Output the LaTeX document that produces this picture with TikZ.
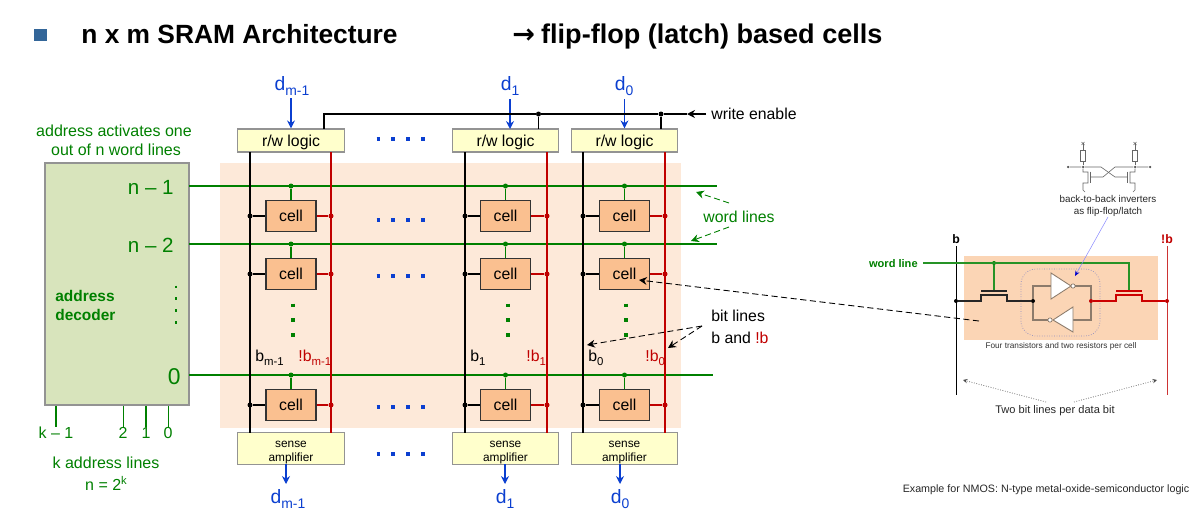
\documentclass[tikz,border=0pt]{standalone}
\usepackage{fontspec}
\setmainfont{Liberation Sans}
\newfontfamily\arrowfont{DejaVu Sans}
\usetikzlibrary{arrows.meta}
\definecolor{dgreen}{HTML}{008000}
\definecolor{dred}{HTML}{C00000}
\definecolor{dblue}{HTML}{0B3FD0}
\definecolor{peach}{HTML}{FDE9D9}
\definecolor{peachb}{HTML}{FBD5B5}
\definecolor{cellc}{HTML}{FAC090}
\definecolor{ampc}{HTML}{FFFFCC}
\definecolor{decc}{HTML}{D8E4BC}
\definecolor{invl}{HTML}{8C7B6B}
\definecolor{bulletc}{HTML}{336699}
\newcommand{\fs}[1]{\fontsize{#1pt}{#1pt}\selectfont}
\newcommand{\low}[1]{\raisebox{-0.45ex}{\scalebox{0.72}{#1}}}
\newcommand{\sensetxt}{\rule{0pt}{8.4pt}sense\\[1.3pt]amplifier}
\begin{document}
\begin{tikzpicture}[x=0.02cm,y=-0.02cm,every node/.style={inner sep=0pt},
amp/.style={shape=rectangle,draw=gray!85,line width=0.7pt,fill=ampc,minimum width=2.13cm},
rwbox/.style={amp,minimum height=0.46cm,font=\fs{9},text height=6.5pt,text depth=0pt},senseb/.style={amp,align=center,minimum height=0.62cm,font=\fs{6.75}},
cellbox/.style={shape=rectangle,draw=black!80,line width=0.7pt,fill=cellc,minimum width=1cm,minimum height=0.62cm,font=\fs{9}},
wordl/.style={dgreen,line width=1.1pt},tap/.style={dgreen,line width=0.8pt},bitb/.style={black,line width=1.1pt},bitr/.style={dred,line width=1.1pt},
dotg/.style={shape=circle,fill=dgreen,minimum size=0.1cm},dotk/.style={shape=circle,fill=black,minimum size=0.1cm},dotr/.style={shape=circle,fill=dred,minimum size=0.1cm},
dinarr/.style={dblue,line width=0.7pt,-{Stealth[length=4.5pt,width=4.5pt]}},
dlab/.style={dblue,font=\fs{11}},glab/.style={dgreen,font=\fs{9.1}},blab/.style={font=\fs{9}},rlab/.style={dred,font=\fs{9}},
dotsb/.style={dblue,line width=1.9pt,dash pattern=on 1.9pt off 6.6pt},dotsg/.style={dgreen,line width=1.9pt,dash pattern=on 1.9pt off 6.6pt},dotsd/.style={dgreen,line width=1.6pt,dash pattern=on 1.6pt off 5.2pt},
dashk/.style={black,line width=0.5pt,dash pattern=on 3.5pt off 2pt,-{Stealth[length=4.5pt,width=4.5pt]}},dashg/.style={dgreen,line width=0.5pt,dash pattern=on 3.5pt off 2pt,-{Stealth[length=4.5pt,width=4.5pt]}},
dotgr/.style={black!70,line width=0.4pt,densely dotted,-{Stealth[length=2.5pt,width=2.5pt]}},
mini/.style={black!60,line width=0.35pt},wirek/.style={black!85,line width=0.6pt},wirer/.style={red!80!black,line width=0.6pt},wirei/.style={invl,line width=0.6pt},
inv/.style={draw=invl,line width=0.5pt,fill=white},bubble/.style={shape=circle,draw=invl,line width=0.4pt,fill=white,minimum size=0.085cm},
small/.style={font=\fs{4.7},text=black!80}]
\useasboundingbox (0,0) rectangle (1204,521);
\def\xa{291};
\def\xb{505.5};
\def\xc{624.5};
\def\ya{216};
\def\yb{274};
\def\yc{405};

% title
\node[shape=rectangle,fill=bulletc,minimum width=0.26cm,minimum height=0.24cm] (bullet) at (40.5,35) {};
\node[anchor=base west,font=\fs{15}\bfseries] (title) at (81,43) {n x m SRAM Architecture};
\node[anchor=base west,font=\fs{15.4}\bfseries] (titleb) at (512,43) {{\arrowfont\bfseries →}\hspace{-0.05em} flip-flop (latch) based cells};

% array background
\fill[peach] (220,163) rectangle (681,428);

% decoder
\node[shape=rectangle,draw=gray!85,line width=0.7pt,fill=decc,minimum width=2.88cm,minimum height=4.84cm] (dec) at (117,284) {};
\node[glab] (acta) at (114,131) {address activates one};
\node[glab] (actb) at (116,150) {out of n word lines};
\node[dgreen,anchor=east,font=\fs{11.7}] (nla) at (174,187) {n – 1};
\node[dgreen,anchor=east,font=\fs{11.7}] (nlb) at (174,245) {n – 2};
\node[dgreen,anchor=east,font=\fs{13}] (nlc) at (181,377) {0};
\node[dgreen,anchor=west,font=\fs{8.8}\bfseries,align=left] (decname) at (55,305.5) {address\\[2.2pt]decoder};
\coordinate (dva) at (176,285.5);
\coordinate (dvb) at (176,325);
\draw[dotsd] (dva) -- (dvb);

% address lines
\node[glab] (ka) at (56,433) {k – 1};
\node[glab] (kb) at (123,433) {2};
\node[glab] (kc) at (146,433) {1};
\node[glab] (kd) at (168,433) {0};
\draw[dgreen,line width=1.2pt] (ka |- dec.south) -- (ka.north);
\draw[dgreen,line width=0.5pt] (kb |- dec.south) -- (kb.north);
\draw[dgreen,line width=1.2pt] (kc |- dec.south) -- (kc.north);
\draw[dgreen,line width=0.5pt] (kd |- dec.south) -- (kd.north);
\node[glab] (kaddr) at (106,463) {k address lines};
\node[glab] (nform) at (106,483) {n = 2\raisebox{0.7ex}{\scalebox{0.7}{k}}};

% word lines
\coordinate (wla) at (189,186);
\coordinate (wlae) at (717,186);
\coordinate (wlb) at (189,244);
\coordinate (wlbe) at (717,244);
\coordinate (wlc) at (189,375);
\coordinate (wlce) at (713,375);
\draw[wordl] (wla) -- (wlae);
\draw[wordl] (wlb) -- (wlbe);
\draw[wordl] (wlc) -- (wlce);

% r/w logic and sense amplifiers
\node[rwbox] (rwa) at (\xa,140.5) {r/w logic};
\node[rwbox] (rwb) at (\xb,140.5) {r/w logic};
\node[rwbox] (rwc) at (\xc,140.5) {r/w logic};
\node[senseb] (sna) at (\xa,448.5) {\sensetxt};
\node[senseb] (snb) at (\xb,448.5) {\sensetxt};
\node[senseb] (snc) at (\xc,448.5) {\sensetxt};

% bit lines
\coordinate (kta) at (250,152);
\coordinate (kba) at (250,433);
\coordinate (rta) at (331,152);
\coordinate (rba) at (331,433);
\coordinate (ktb) at (465,152);
\coordinate (kbb) at (465,433);
\coordinate (rtb) at (547,152);
\coordinate (rbb) at (547,433);
\coordinate (ktc) at (583,152);
\coordinate (kbc) at (583,433);
\coordinate (rtc) at (665,152);
\coordinate (rbc) at (665,433);
\draw[bitb] (kta) -- (kba);
\draw[bitr] (rta) -- (rba);
\draw[bitb] (ktb) -- (kbb);
\draw[bitr] (rtb) -- (rbb);
\draw[bitb] (ktc) -- (kbc);
\draw[bitr] (rtc) -- (rbc);

% column m-1
\node[cellbox] (cellaa) at (\xa,\ya) {cell};
\node[dotg] (gaa) at (cellaa |- wla) {};
\node[dotk] (kaa) at (cellaa -| kta) {};
\node[dotr] (raa) at (cellaa -| rta) {};
\draw[tap] (gaa) -- (cellaa.north);
\draw[bitb] (kaa) -- (cellaa.west);
\draw[bitr] (cellaa.east) -- (raa);

\node[cellbox] (cellab) at (\xa,\yb) {cell};
\node[dotg] (gab) at (cellab |- wlb) {};
\node[dotk] (kab) at (cellab -| kta) {};
\node[dotr] (rab) at (cellab -| rta) {};
\draw[tap] (gab) -- (cellab.north);
\draw[bitb] (kab) -- (cellab.west);
\draw[bitr] (cellab.east) -- (rab);

\node[cellbox] (cellac) at (\xa,\yc) {cell};
\node[dotg] (gac) at (cellac |- wlc) {};
\node[dotk] (kac) at (cellac -| kta) {};
\node[dotr] (rac) at (cellac -| rta) {};
\draw[tap] (gac) -- (cellac.north);
\draw[bitb] (kac) -- (cellac.west);
\draw[bitr] (cellac.east) -- (rac);

% column 1
\node[cellbox] (cellba) at (\xb,\ya) {cell};
\node[dotg] (gba) at (cellba |- wla) {};
\node[dotk] (kba1) at (cellba -| ktb) {};
\node[dotr] (rba1) at (cellba -| rtb) {};
\draw[tap] (gba) -- (cellba.north);
\draw[bitb] (kba1) -- (cellba.west);
\draw[bitr] (cellba.east) -- (rba1);

\node[cellbox] (cellbb) at (\xb,\yb) {cell};
\node[dotg] (gbb) at (cellbb |- wlb) {};
\node[dotk] (kbb1) at (cellbb -| ktb) {};
\node[dotr] (rbb1) at (cellbb -| rtb) {};
\draw[tap] (gbb) -- (cellbb.north);
\draw[bitb] (kbb1) -- (cellbb.west);
\draw[bitr] (cellbb.east) -- (rbb1);

\node[cellbox] (cellbc) at (\xb,\yc) {cell};
\node[dotg] (gbc) at (cellbc |- wlc) {};
\node[dotk] (kbc1) at (cellbc -| ktb) {};
\node[dotr] (rbc1) at (cellbc -| rtb) {};
\draw[tap] (gbc) -- (cellbc.north);
\draw[bitb] (kbc1) -- (cellbc.west);
\draw[bitr] (cellbc.east) -- (rbc1);

% column 0
\node[cellbox] (cellca) at (\xc,\ya) {cell};
\node[dotg] (gca) at (cellca |- wla) {};
\node[dotk] (kca) at (cellca -| ktc) {};
\node[dotr] (rca) at (cellca -| rtc) {};
\draw[tap] (gca) -- (cellca.north);
\draw[bitb] (kca) -- (cellca.west);
\draw[bitr] (cellca.east) -- (rca);

\node[cellbox] (cellcb) at (\xc,\yb) {cell};
\node[dotg] (gcb) at (cellcb |- wlb) {};
\node[dotk] (kcb) at (cellcb -| ktc) {};
\node[dotr] (rcb) at (cellcb -| rtc) {};
\draw[tap] (gcb) -- (cellcb.north);
\draw[bitb] (kcb) -- (cellcb.west);
\draw[bitr] (cellcb.east) -- (rcb);

\node[cellbox] (cellcc) at (\xc,\yc) {cell};
\node[dotg] (gcc) at (cellcc |- wlc) {};
\node[dotk] (kcc) at (cellcc -| ktc) {};
\node[dotr] (rcc) at (cellcc -| rtc) {};
\draw[tap] (gcc) -- (cellcc.north);
\draw[bitb] (kcc) -- (cellcc.west);
\draw[bitr] (cellcc.east) -- (rcc);

% dots between columns and rows
\draw[dotsb] (376.5,139) -- (428,139);
\draw[dotsb] (376.5,220) -- (428,220);
\draw[dotsb] (376.5,276) -- (428,276);
\draw[dotsb] (376.5,407) -- (428,407);
\draw[dotsb] (376.5,454) -- (428,454);
\draw[dotsg] (293,303.5) -- (293,340);
\draw[dotsg] (508,303.5) -- (508,340);
\draw[dotsg] (626,303.5) -- (626,340);

% data in and out
\node[dlab] (dia) at (292,86) {d\low{m-1}};
\node[dlab] (dib) at (510,86) {d\low{1}};
\node[dlab] (dic) at (624,86) {d\low{0}};
\draw[dinarr] (\xa,98) -- (rwa.north);
\draw[dinarr] (510,99) -- (510,129);
\draw[dinarr] (\xc,99) -- (rwc.north);
\node[dlab] (doa) at (288,499) {d\low{m-1}};
\node[dlab] (dob) at (505,499) {d\low{1}};
\node[dlab] (doc) at (620,499) {d\low{0}};
\draw[dinarr] (286,464) -- (286,484);
\draw[dinarr] (505,464) -- (505,484);
\draw[dinarr] (620,464) -- (620,484);

% write enable
\node[blab,anchor=west] (wen) at (711,114) {write enable};
\node[dotk] (wjb) at (538.5,114) {};
\node[dotk] (wjc) at (661,114) {};
\coordinate (wst) at (324,129);
\coordinate (wea) at (706,114);
\draw[line width=1.1pt] (wst) |- (wjb) -- (wjc);
\draw[line width=1.1pt] (wjb) -- (538.5,129);
\draw[line width=1.1pt] (wjc) -- (661,129);
\draw[line width=1.1pt,-{Stealth[length=4.5pt,width=4.5pt]}] (wea) -- (687,114);
\draw[line width=1.1pt] (wjc) -- (687,114);

% bit line labels
\node[blab,anchor=west] (lba) at (255,358) {b\low{m-1}};
\node[rlab,anchor=west] (lra) at (298,358) {!b\low{m-1}};
\node[blab,anchor=west] (lbb) at (470,358) {b\low{1}};
\node[rlab,anchor=west] (lrb) at (526,358) {!b\low{1}};
\node[blab,anchor=west] (lbc) at (588,358) {b\low{0}};
\node[rlab,anchor=west] (lrc) at (645,358) {!b\low{0}};

% side labels
\node[glab,font=\fs{9}] (wllab) at (739,217) {word lines};
\coordinate (wlu) at (729,203);
\coordinate (wld) at (729,227);
\draw[dashg] (wlu) -- (696,192);
\draw[dashg] (wld) -- (691,241);
\node[blab,anchor=west,align=left] (bllab) at (711,327) {bit lines\\[3.5pt]b and {\color{dred}!b}};
\coordinate (blf) at (702,326);
\draw[dashk] (blf) -- (587,345);
\draw[dashk] (blf) -- (668,348);

% one cell in detail
\fill[peachb] (964,256) rectangle (1158,340);
\node[font=\fs{7}\bfseries] (bl) at (956,239) {b};
\node[dred,font=\fs{7}\bfseries] (br) at (1167,239) {!b};
\coordinate (bls) at (956,395);
\coordinate (brs) at (1167,395);
\draw[line width=0.5pt] (956,246) -- (bls);
\draw[dred!80,line width=0.5pt] (1167,246) -- (brs);
\node[dgreen,anchor=east,font=\fs{6.3}\bfseries] (wdl) at (918,264) {word line};
\coordinate (wda) at (923,263);
\coordinate (wdb) at (1129,263);
\coordinate (wdc) at (1129,291);
\node[shape=circle,fill=dgreen,minimum size=0.08cm] (wdj) at (994,263) {};
\draw[dgreen!85!white,line width=0.6pt] (wda) -- (wdb) -- (wdc);
\draw[dgreen!85!white,line width=0.6pt] (wdj) -- (994,291);
\draw[wirek,line width=0.8pt] (981,291) -- (1007,291);
\draw[wirer,line width=0.8pt] (1116,291) -- (1142,291);
\draw[rounded corners=0.3cm,draw=blue!30!gray!70,line width=0.4pt,densely dotted] (1021,269) rectangle (1100,336);
\node[dotk,minimum size=0.08cm] (jka) at (956,301) {};
\node[dotk,minimum size=0.08cm] (jkb) at (1033,301) {};
\node[dotr,minimum size=0.08cm] (jra) at (1091,301) {};
\node[dotr,minimum size=0.08cm] (jrb) at (1167,301) {};
\draw[wirek] (jka) -- ++(25,0) -- ++(0,-6) -- ++(26,0) -- ++(0,6) -- (jkb);
\draw[wirer] (jra) -- ++(25,0) -- ++(0,-6) -- ++(26,0) -- ++(0,6) -- (jrb);
\node[bubble] (ba) at (1073,286) {};
\node[bubble] (bb) at (1050,320) {};
\draw[wirei] (jkb) |- (1051,286);
\draw[wirei] (ba) -| (jra);
\draw[wirei] (jra) |- (1073,320);
\draw[wirei] (bb) -| (jkb);
\draw[inv] (1051,273) -- (1051,299) -- (1071,286) -- cycle;
\draw[inv] (1073,307) -- (1073,332) -- (1053,320) -- cycle;
\node[small] (cellnote) at (1061,346) {Four transistors and two resistors per cell};
\node[font=\fs{6.3},text=black!85] (twob) at (1055,411) {Two bit lines per data bit};
\coordinate (twol) at (1046,402);
\coordinate (twor) at (1074,402);
\draw[dotgr] (twol) -- (963,380);
\draw[dotgr] (twor) -- (1157,380);
\node[font=\fs{6.1},text=black!85] (nmos) at (1046,490) {Example for NMOS: N-type metal-oxide-semiconductor logic};

% back-to-back inverters
\node[font=\fs{5.6},text=black!85,align=center] (bbi) at (1108,206) {back-to-back inverters\\[1.3pt]as flip-flop/latch};
\draw[blue!45!white,line width=0.3pt,-{Stealth[length=3pt,width=2.5pt,color=blue!80!black]}] (bbi.south) -- (1075,276);
\node[dotk,minimum size=0.05cm,fill=black!70] (ma) at (1068,167) {};
\node[dotk,minimum size=0.05cm,fill=black!70] (mb) at (1083,167) {};
\node[dotk,minimum size=0.05cm,fill=black!70] (mc) at (1135,167) {};
\node[dotk,minimum size=0.05cm,fill=black!70] (md) at (1150,167) {};
\draw[mini] (ma) -- (mb) -- (1101,167) -- (1115,177) -- (1127.5,177);
\draw[mini] (md) -- (mc) -- (1115,167) -- (1103,177) -- (1090.5,177);
\draw[mini] (1090.5,171.5) -- (1090.5,182.5);
\draw[mini] (1127.5,171.5) -- (1127.5,182.5);
\draw[mini] (mb) -- (1083,172) -- (1088,172) -- (1088,183) -- (1083,183) -- (1083,190) -- (1085,192);
\draw[mini] (mc) -- (1135,172) -- (1130,172) -- (1130,183) -- (1135,183) -- (1135,190) -- (1133,192);
\node[shape=rectangle,draw=black!60,line width=0.35pt,minimum width=0.09cm,minimum height=0.23cm] (resa) at (1083,156) {};
\node[shape=rectangle,draw=black!60,line width=0.35pt,minimum width=0.09cm,minimum height=0.23cm] (resb) at (1135,156) {};
\draw[mini] (mb) -- (resa);
\draw[mini] (mc) -- (resb);
\draw[mini] (resa) -- (1083,143);
\draw[mini] (resb) -- (1135,143);
\draw[mini] (1081.5,142) -- (1084.5,145);
\draw[mini] (1081.5,145) -- (1084.5,142);
\draw[mini] (1133.5,142) -- (1136.5,145);
\draw[mini] (1133.5,145) -- (1136.5,142);

% from array cell to detail
\coordinate (cstart) at (979,321);
\draw[dashk] (cstart) -- (639,280);
\end{tikzpicture}
\end{document}
